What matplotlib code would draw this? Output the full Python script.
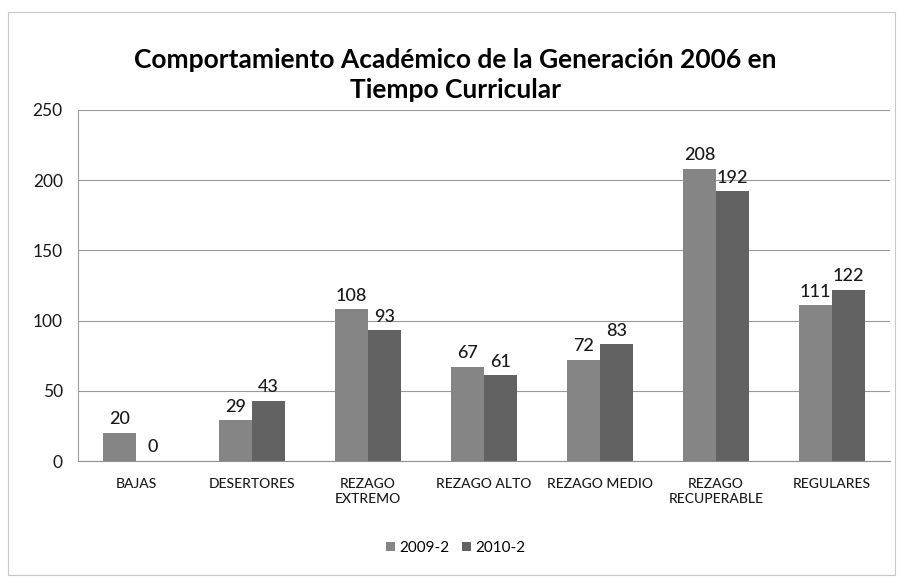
import matplotlib.pyplot as plt
import numpy as np
from matplotlib.patches import Rectangle

categories = ["BAJAS", "DESERTORES", "REZAGO\nEXTREMO", "REZAGO ALTO", "REZAGO MEDIO", "REZAGO\nRECUPERABLE", "REGULARES"]
series_names = ["2009-2", "2010-2"]
s2009 = [20, 29, 108, 67, 72, 208, 111]
s2010 = [0, 43, 93, 61, 83, 192, 122]
yticks = [0, 50, 100, 150, 200, 250]
title = "Comportamiento Académico de la Generación 2006 en\nTiempo Curricular"

plt.rcParams['font.family'] = ['Lato', 'DejaVu Sans']

fig = plt.figure(figsize=(9.02, 5.78), dpi=100)
fig.patch.set_facecolor('white')
fig.add_artist(Rectangle((8/902, 3/578), 887/902, 563/578, transform=fig.transFigure,
                         fill=False, edgecolor='#c8c8c8', linewidth=0.8))
ax = fig.add_axes([78/902, 1-461/578, 812/902, 351/578])

x = np.arange(len(categories))
w = 0.285
colors = ['#858585', '#626262']
b1 = ax.bar(x - w/2, s2009, w, color=colors[0], label=series_names[0])
b2 = ax.bar(x + w/2, s2010, w, color=colors[1], label=series_names[1])
for bars in (b1, b2):
    ax.bar_label(bars, padding=4, fontsize=13, color='#1a1a1a', fontweight='medium')

ax.set_ylim(0, 250)
ax.set_xlim(-0.5, len(categories) - 0.5)
ax.set_yticks(yticks)
ax.tick_params(axis='y', length=0, labelsize=12.5, pad=11, labelcolor='#1a1a1a')
ax.set_xticks(x)
ax.set_xticklabels(categories, fontsize=10, linespacing=1.35, fontweight='medium')
ax.tick_params(axis='x', length=0, pad=12, labelcolor='#1a1a1a')
ax.grid(axis='y', color='#9a9a9a', linewidth=0.8)
ax.set_axisbelow(True)
for s in ['top', 'right']:
    ax.spines[s].set_visible(False)
ax.spines['left'].set_color('#a0a0a0')
ax.spines['bottom'].set_color('#909090')

fig.text(0.505, 1-75/578, title, ha='center', va='center', fontsize=19, fontweight='bold',
         linespacing=1.25)

fig.legend(handles=[b1, b2], labels=series_names, loc='center', bbox_to_anchor=(0.505, 1-548/578),
           ncol=2, frameon=False, fontsize=11, handlelength=0.6, handleheight=0.6,
           columnspacing=0.8, handletextpad=0.3)

fig.savefig('out.png', dpi=100)
